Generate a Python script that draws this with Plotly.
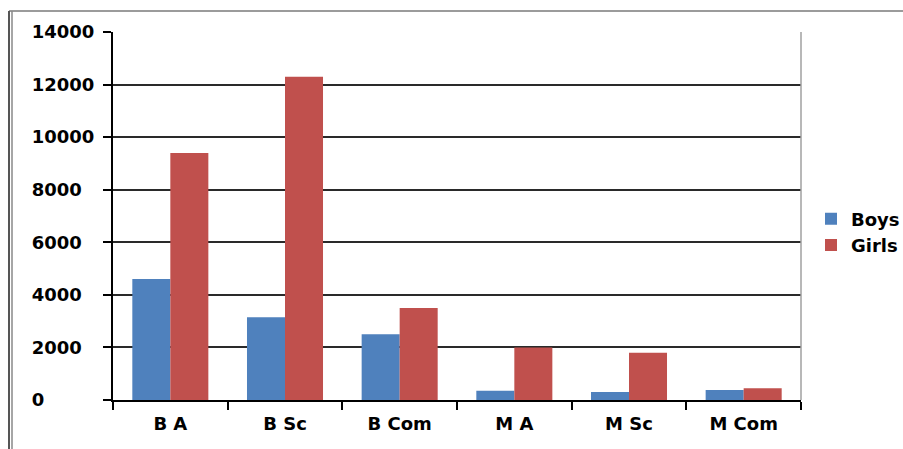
import plotly.graph_objects as go

categories = ["B A", "B Sc", "B Com", "M A", "M Sc", "M Com"]
boys = [4600, 3150, 2500, 350, 300, 380]
girls = [9400, 12300, 3500, 2000, 1800, 450]
y_ticks = [0, 2000, 4000, 6000, 8000, 10000, 12000, 14000]

# left-aligned tick labels via figure-space padding
FS = "\u2007"
y_ticktext = [str(v) + FS * (5 - len(str(v))) for v in y_ticks]

font_main = dict(family="DejaVu Sans", size=18, color="#000000", weight="bold")

fig = go.Figure()
fig.add_trace(go.Bar(name="Boys", x=categories, y=boys, marker=dict(color="#4F81BD", line=dict(width=0))))
fig.add_trace(go.Bar(name="Girls", x=categories, y=girls, marker=dict(color="#C0504D", line=dict(width=0))))

L, R, T, B = 113, 801, 32, 400
W, H = 903, 449

def px_x(p):
    return (p - L) / (R - L)

def px_y(p):
    return (B - p) / (B - T)

fig.update_layout(
    width=W, height=H,
    margin=dict(l=L, r=W - R, t=T, b=H - B, pad=0, autoexpand=False),
    paper_bgcolor="white", plot_bgcolor="white",
    barmode="group", bargap=0.337, bargroupgap=0,
    font=font_main,
    legend=dict(xref="container", yref="container", x=811 / W, y=1 - 232 / H,
                xanchor="left", yanchor="middle",
                font=font_main, bgcolor="rgba(0,0,0,0)", tracegroupgap=0,
                itemwidth=30),
    showlegend=True,
    xaxis=dict(type="category", showline=True, linecolor="#000000", linewidth=2,
               ticks="outside", tickson="boundaries", ticklen=8, tickwidth=2,
               tickcolor="#000000", showgrid=False, tickfont=font_main,
               ticklabelstandoff=6),
    yaxis=dict(range=[0, 14000], tickvals=y_ticks, ticktext=y_ticktext,
               showline=True, linecolor="#000000", linewidth=2,
               ticks="outside", ticklen=8, tickwidth=2, tickcolor="#000000",
               showgrid=True, gridcolor="#2a2a2a", gridwidth=1.5,
               zeroline=False, tickfont=font_main, ticklabelstandoff=5),
    shapes=[
        # right plot border (grey)
        dict(type="line", xref="paper", yref="paper", x0=1, x1=1, y0=0, y1=1,
             line=dict(color="#a0a0a0", width=1.5)),
        # outer frame: top line
        dict(type="line", xref="paper", yref="paper", x0=px_x(9), x1=px_x(903),
             y0=px_y(11), y1=px_y(11), line=dict(color="#7a7a7a", width=1.5)),
        # outer frame: left double line
        dict(type="line", xref="paper", yref="paper", x0=px_x(9), x1=px_x(9),
             y0=px_y(449), y1=px_y(11), line=dict(color="#555555", width=2)),
        dict(type="line", xref="paper", yref="paper", x0=px_x(12), x1=px_x(12),
             y0=px_y(449), y1=px_y(11), line=dict(color="#888888", width=1.5)),
    ],
)

fig.write_html("out.html")
